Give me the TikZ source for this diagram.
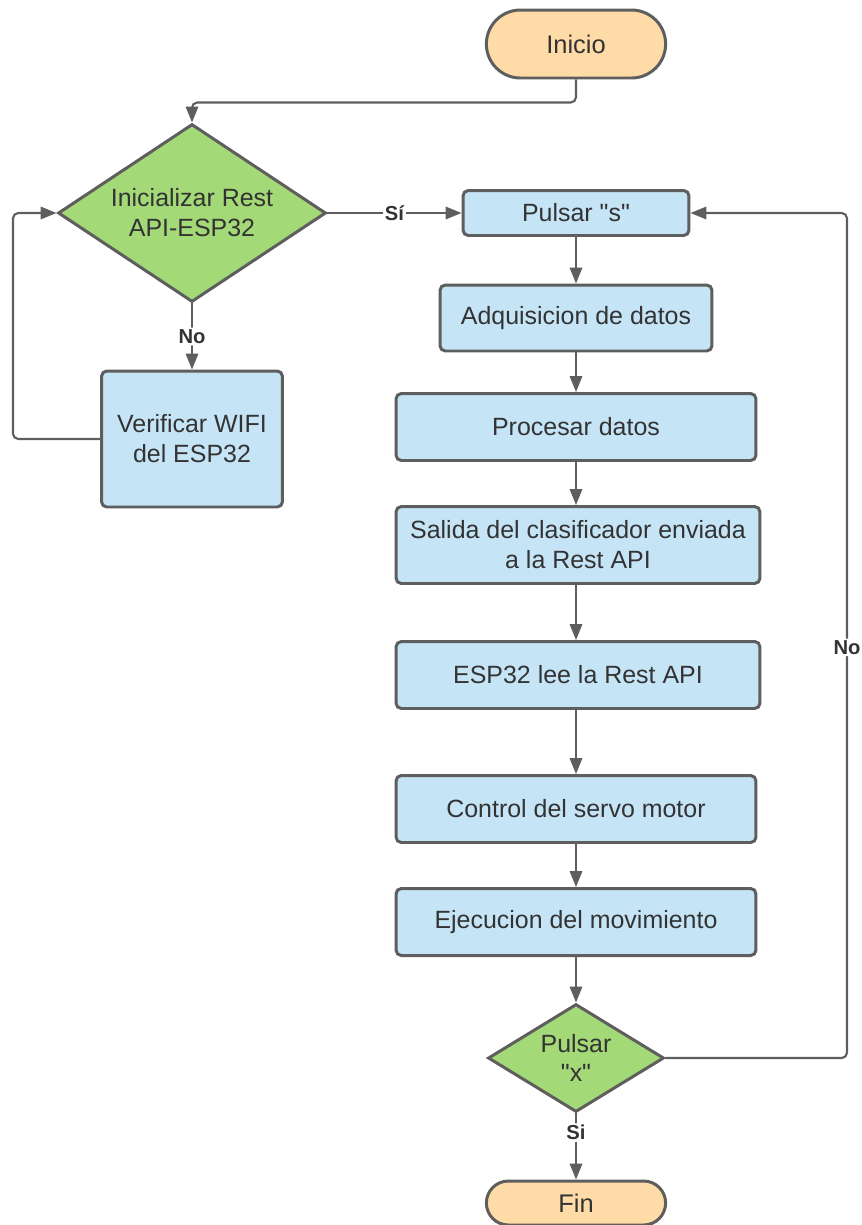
\documentclass[tikz,border=0pt]{standalone}
\usepackage{fontspec}
\setmainfont{Liberation Sans}
\usetikzlibrary{arrows.meta, positioning, shapes.geometric, shapes.misc}

\definecolor{edgegray}{HTML}{5E5E5E}
\definecolor{txtgray}{HTML}{333333}
\definecolor{procblue}{HTML}{C5E4F6}
\definecolor{decgreen}{HTML}{A3D977}
\definecolor{termorange}{HTML}{FFDBA8}

\begin{document}
\begin{tikzpicture}[
  x=0.02cm, y=-0.02cm,
  >={Triangle[length=9pt, width=7pt]},
  every node/.style = {text=txtgray, font=\fontsize{14.2}{17}\selectfont},
  %-- block styles -------------------------------------------------------
  terminal/.style = {draw=edgegray, line width=1.7pt, rounded rectangle,
                     fill=termorange, minimum width=3.82cm,
                     font=\fontsize{14.5}{16}\selectfont},
  process/.style  = {draw=edgegray, line width=1.7pt, rectangle,
                     rounded corners=3pt, fill=procblue, align=center},
  decision/.style = {draw=edgegray, line width=1.7pt, diamond, aspect=1.5,
                     inner sep=0pt, fill=decgreen, align=center},
  arrow/.style    = {->, draw=edgegray, line width=1.2pt, rounded corners=3pt},
  lbl/.style      = {fill=white, inner sep=1pt, text=txtgray,
                     font=\fontsize{11.5}{13}\selectfont\bfseries},
]
\useasboundingbox (0,0) rectangle (862,1225);

% ── Start and Wi-Fi setup ─────────────────────────────────────────────────────
\node[terminal, minimum height=1.36cm] (inicio) at (576,44) {Inicio};
\node[decision, minimum width=5.36cm, minimum height=3.56cm] (restapi) at (192,213)
  {Inicializar Rest\\API-ESP32};
\node[process, minimum width=3.62cm, minimum height=2.72cm] (wifi) at (192,439)
  {Verificar WIFI\\del ESP32};

% ── Main processing column ───────────────────────────────────────────────────
\node[process, minimum width=4.52cm, minimum height=0.9cm] (pulsars) at (576,213)
  {Pulsar \textquotedbl s\textquotedbl};
\node[process, minimum width=5.44cm, minimum height=1.32cm] (adq) at (576,318)
  {Adquisicion de datos};
\node[process, minimum width=7.2cm, minimum height=1.34cm] (proc) at (576,427)
  {Procesar datos};
\node[process, minimum width=7.28cm, minimum height=1.54cm] (salida) at (578,545)
  {Salida del clasificador enviada\\a la Rest API};
\node[process, minimum width=7.28cm, minimum height=1.34cm] (lee) at (578,675)
  {ESP32 lee la Rest API};
\node[process, minimum width=7.2cm, minimum height=1.34cm] (servo) at (576,809)
  {Control del servo motor};
\node[process, minimum width=7.2cm, minimum height=1.34cm] (ejec) at (576,922)
  {Ejecucion del movimiento};
\node[decision, minimum width=3.52cm, minimum height=2.16cm] (pulsarx) at (576,1058)
  {Pulsar\\\textquotedbl x\textquotedbl};
\node[terminal, minimum height=0.88cm] (fin) at (576,1203) {Fin};

% ── Side rails for the loops ──────────────────────────────────────────────────
\coordinate (leftrail)  at (13,0);
\coordinate (rightrail) at (847,0);

% ── Connectors ────────────────────────────────────────────────────────────────
\draw[arrow] (inicio.south) -- ++(0,23) -| (restapi.north);
\draw[arrow] (restapi.east) -- node[lbl] {Sí} (pulsars.west);
\draw[arrow] (restapi.south) -- node[lbl] {No} (wifi.north);
\draw[arrow] (wifi.west) -| (leftrail |- restapi.west) -- (restapi.west);

\draw[arrow] (pulsars) -- (adq);
\draw[arrow] (adq) -- (proc);
\draw[arrow] (proc) -- (salida.north -| proc.south);
\draw[arrow] (salida.south -| proc.south) -- (lee.north -| proc.south);
\draw[arrow] (lee.south -| proc.south) -- (servo);
\draw[arrow] (servo) -- (ejec);
\draw[arrow] (ejec) -- (pulsarx);

\draw[arrow] (pulsarx.south) -- node[lbl, pos=0.29] {Si} (fin.north);
\draw[arrow] (pulsarx.east) -| node[lbl, pos=0.743] {No}
             (rightrail |- pulsars.east) -- (pulsars.east);

\end{tikzpicture}
\end{document}
